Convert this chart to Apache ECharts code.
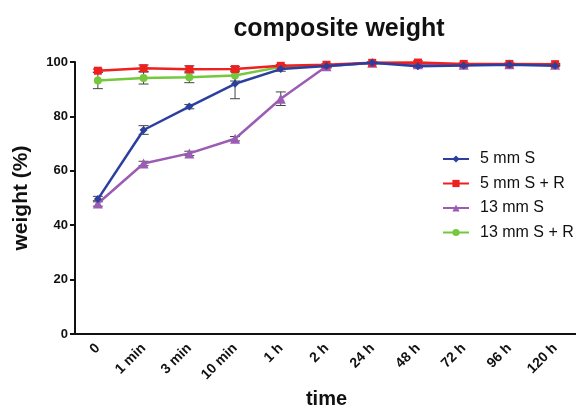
<!DOCTYPE html>
<html>
<head>
<meta charset="utf-8">
<script src="https://cdn.jsdelivr.net/npm/echarts@6/dist/echarts.min.js"></script>
<style>
  html, body { margin: 0; padding: 0; background: #fff; }
  #chart { width: 576px; height: 405px; }
</style>
</head>
<body>
<div id="chart"></div>
<script>
var times = ["0", "1 min", "3 min", "10 min", "1 h", "2 h", "24 h", "48 h", "72 h", "96 h", "120 h"];
var names = ["5 mm S", "5 mm S + R", "13 mm S", "13 mm S + R"];
var colors = ["#2c3f9e", "#ee2020", "#9b5cb4", "#74c83c"];
var symbols = ["diamond", "rect", "triangle", "circle"];

var s5 = [49.6, 75.0, 83.6, 92.0, 97.4, 98.5, 99.7, 98.4, 98.7, 99.0, 98.6];
var s5R = [96.8, 97.7, 97.3, 97.4, 98.6, 99.0, 99.7, 99.8, 99.3, 99.3, 99.2];
var s13 = [48.0, 62.7, 66.4, 71.8, 86.5, 98.4, 99.7, 99.2, 99.0, 99.2, 99.0];
var s13R = [93.2, 94.1, 94.4, 95.0, 98.2, 98.6, 99.6, 99.2, 99.1, 99.2, 99.0];
var values = [s5, s5R, s13, s13R];

// error bar half-widths (SD)
var err5 = [1.0, 1.6, 0.8, 5.5, 0.8, 0.5, 0.3, 0.4, 0.4, 0.3, 0.3];
var err5R = [0.6, 1.2, 1.3, 1.0, 0.5, 0.4, 0.3, 0.6, 0.4, 0.3, 0.3];
var err13 = [1.0, 0.8, 0.8, 0.8, 2.5, 0.6, 0.3, 0.3, 0.3, 0.3, 0.3];
var err13R = [3.0, 2.2, 2.0, 2.0, 0.6, 0.5, 0.3, 0.3, 0.3, 0.3, 0.3];
var errs = [err5, err5R, err13, err13R];

var myChart = echarts.init(document.getElementById("chart"));

var series = [];
var drawOrder = [3, 2, 1, 0];
drawOrder.forEach(function (k) {
  var errData = values[k].map(function (v, i) { return [i, v - errs[k][i], v + errs[k][i]]; });
  series.push({
    type: 'custom',
    name: names[k] + ' err',
    z: 2,
    data: errData,
    silent: true,
    renderItem: function (params, api) {
      var lo = api.coord([api.value(0), api.value(1)]);
      var hi = api.coord([api.value(0), api.value(2)]);
      var w = 5;
      var st = { stroke: '#444', lineWidth: 1 };
      return {
        type: 'group',
        children: [
          { type: 'line', shape: { x1: hi[0], y1: hi[1], x2: lo[0], y2: lo[1] }, style: st },
          { type: 'line', shape: { x1: hi[0] - w, y1: hi[1], x2: hi[0] + w, y2: hi[1] }, style: st },
          { type: 'line', shape: { x1: lo[0] - w, y1: lo[1], x2: lo[0] + w, y2: lo[1] }, style: st }
        ]
      };
    }
  });
  series.push({
    type: 'line',
    name: names[k],
    data: values[k],
    z: 3 + drawOrder.indexOf(k),
    symbol: symbols[k],
    symbolSize: k === 2 ? 10 : 8,
    lineStyle: { width: 2.5, color: colors[k] },
    itemStyle: { color: colors[k] }
  });
});

var option = {
  animation: false,
  backgroundColor: '#fff',
  textStyle: { fontFamily: 'Liberation Sans, Arial, sans-serif' },
  title: {
    text: 'composite weight',
    left: 334,
    top: 12,
    textAlign: 'center',
    textStyle: { fontSize: 25, fontWeight: 'bold', color: '#111' }
  },
  legend: {
    data: names,
    orient: 'vertical',
    left: 437,
    top: 146,
    itemWidth: 26,
    itemHeight: 9,
    itemGap: 8.5,
    textStyle: { fontSize: 16, color: '#111', padding: [0, 0, 0, 6] }
  },
  grid: { left: 75, right: -2, top: 62, bottom: 71, outerBoundsMode: 'none' },
  xAxis: {
    type: 'category',
    data: times,
    boundaryGap: true,
    name: 'time',
    nameLocation: 'middle',
    nameGap: 52,
    nameTextStyle: { fontSize: 20, fontWeight: 'bold', color: '#111' },
    axisLine: { lineStyle: { color: '#111', width: 2 } },
    axisTick: { alignWithLabel: true, length: 5, lineStyle: { color: '#111', width: 2 } },
    axisLabel: { rotate: 45, fontSize: 14, fontWeight: 'bold', color: '#111', margin: 12 },
    splitLine: { show: false }
  },
  yAxis: {
    type: 'value',
    min: 0,
    max: 100,
    interval: 20,
    name: 'weight (%)',
    nameLocation: 'middle',
    nameGap: 43,
    nameTextStyle: { fontSize: 21, fontWeight: 'bold', color: '#111' },
    axisLine: { show: true, lineStyle: { color: '#111', width: 2 } },
    axisTick: { show: true, length: 5, lineStyle: { color: '#111', width: 2 } },
    axisLabel: { fontSize: 13, fontWeight: 'bold', color: '#111', margin: 7 },
    splitLine: { show: false }
  },
  series: series
};

myChart.setOption(option);
</script>
</body>
</html>
